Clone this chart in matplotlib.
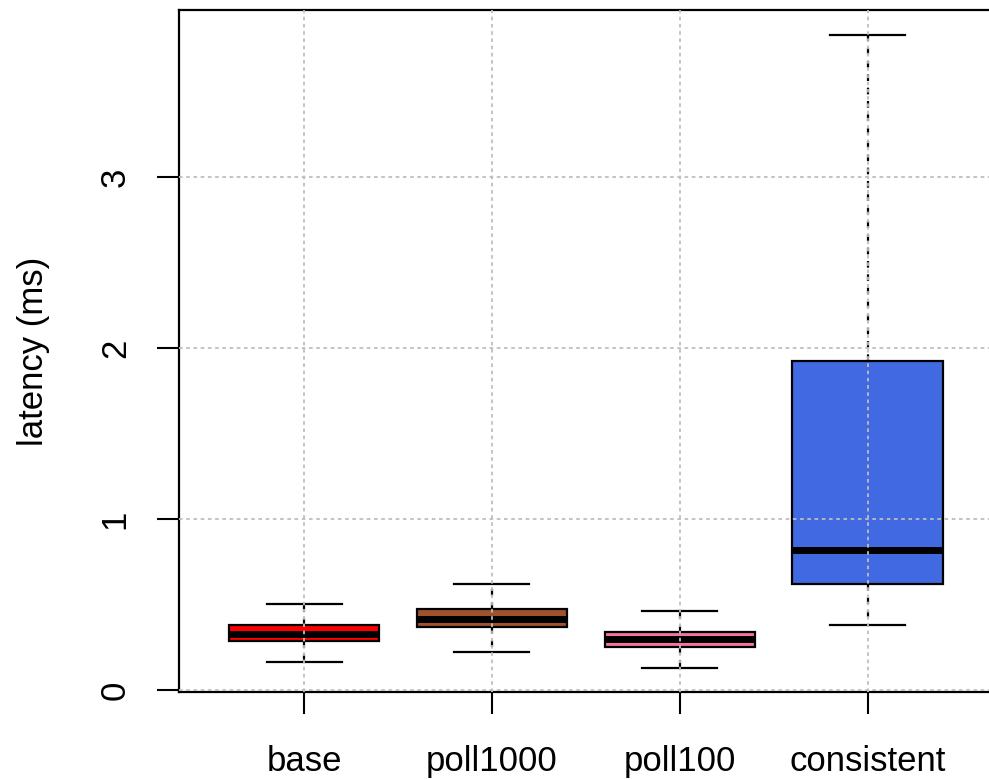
import matplotlib
matplotlib.use("Agg")
import matplotlib.pyplot as plt

categories = ["base", "poll1000", "poll100", "consistent"]
whislo = [0.166, 0.224, 0.13, 0.382]
q1 = [0.288, 0.368, 0.25, 0.62]
med = [0.327, 0.415, 0.298, 0.819]
q3 = [0.378, 0.474, 0.341, 1.924]
whishi = [0.503, 0.62, 0.46, 3.83]
colors = ["#FF0000", "#A0522D", "#F4769C", "#4169E1"]
yticks = [0, 1, 2, 3]

plt.rcParams['font.family'] = ['Liberation Sans', 'DejaVu Sans']
fig = plt.figure(figsize=(9.89, 7.80), dpi=100)
ax = fig.add_axes([179/989, 1 - 692/780, 820/989, 682/780])

stats = []
for i, c in enumerate(categories):
    stats.append(dict(label=c, whislo=whislo[i], q1=q1[i], med=med[i],
                      q3=q3[i], whishi=whishi[i], fliers=[]))
positions = list(range(1, len(categories) + 1))
bp = ax.bxp(stats, positions=positions, widths=0.8, patch_artist=True,
            showfliers=False,
            boxprops=dict(linewidth=1.6, edgecolor='black'),
            medianprops=dict(color='black', linewidth=5, solid_capstyle='butt'),
            whiskerprops=dict(color='black', linewidth=1.6, linestyle=(0, (3, 3))),
            capprops=dict(color='black', linewidth=1.6), capwidths=0.4, zorder=2)
for patch, col in zip(bp['boxes'], colors):
    patch.set_facecolor(col)

ax.set_xlim(0.334, 4.70)
ax.set_ylim(-0.012, 3.977)
ax.set_xticks(positions)
ax.set_xticklabels(categories, fontsize=25)
ax.set_yticks(yticks)
ax.set_yticklabels([str(v) for v in yticks], fontsize=25, rotation=90, va='center')
ax.set_ylabel("latency (ms)", fontsize=25, labelpad=35)

for v in positions:
    ax.axvline(v, color='#BEBEBE', linewidth=1.3, linestyle=(0, (2, 2)), zorder=5)
for v in yticks:
    ax.axhline(v, color='#BEBEBE', linewidth=1.3, linestyle=(0, (2, 2)), zorder=5)

ax.tick_params(axis='both', length=16, width=1.5, direction='out')
ax.tick_params(axis='x', pad=22)
ax.tick_params(axis='y', pad=18)
for s in ['left', 'top', 'bottom', 'right']:
    ax.spines[s].set_linewidth(1.6)

fig.savefig("out.png", dpi=100)
